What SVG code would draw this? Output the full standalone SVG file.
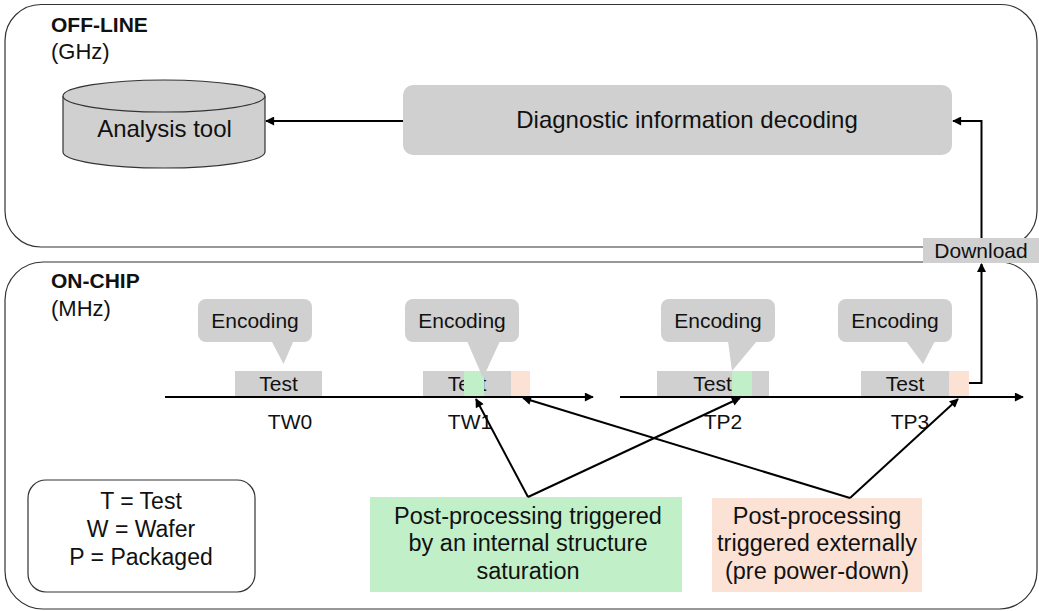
<svg xmlns="http://www.w3.org/2000/svg" width="1039" height="611" viewBox="0 0 1039 611">
<style>
text{font-family:"Liberation Sans",Arial,sans-serif;fill:#111;}
.t{font-size:21px;}
.c{text-anchor:middle;}
.b{font-weight:bold;}
.big{font-size:24px;}
.frame{fill:none;stroke:#333;stroke-width:1.2;}
.gray{fill:#d0d0d0;}
.grn{fill:#c1f0c8;}
.org{fill:#fbe2d5;}
.ln{fill:none;stroke:#000;stroke-width:2;}
.box{font-size:23.5px;}
.lg{font-size:23px;}
.sub{font-size:22px;}
</style>
<defs>
<marker id="ah" viewBox="0 0 10 10" refX="9" refY="5" markerWidth="11" markerHeight="9" markerUnits="userSpaceOnUse" orient="auto">
<path d="M0,0 L10,5 L0,10 Z" fill="#000"/>
</marker>
</defs>
<rect width="1039" height="611" fill="#fff"/>

<g id="offline">
<rect class="frame" x="5" y="4.5" width="1032" height="242.5" rx="36"/>
<text class="t b" x="51" y="32">OFF-LINE</text>
<text class="sub" x="51" y="59">(GHz)</text>
</g>

<g id="onchip">
<rect class="frame" x="5" y="262" width="1032" height="347" rx="38"/>
<text class="t b" x="51" y="288">ON-CHIP</text>
<text class="sub" x="51" y="316">(MHz)</text>
</g>

<g id="analysis">
<path d="M63,96 V152 A101,16 0 0 0 265,152 V96" fill="#d0d0d0" stroke="#333" stroke-width="1.2"/>
<ellipse cx="164" cy="96" rx="101" ry="16" fill="#d0d0d0" stroke="#333" stroke-width="1.2"/>
<text class="big c" x="164.5" y="137">Analysis tool</text>
</g>

<g id="decoding">
<rect class="gray" x="403" y="85" width="549" height="70" rx="10"/>
<text class="big c" x="687" y="128">Diagnostic information decoding</text>
</g>

<g id="download">
<rect class="gray" x="923" y="238" width="116" height="25"/>
<text class="t c" x="981" y="258">Download</text>
</g>

<g id="tw0">
<rect class="gray" x="235" y="371" width="87" height="26"/>
<text class="t c" x="278.5" y="391">Test</text>
<text class="t c" x="290" y="429">TW0</text>
</g>

<g id="tw1">
<rect class="gray" x="423" y="371" width="88" height="26"/>
<text class="t c" x="467" y="391">Test</text>
<rect class="grn" x="464" y="371" width="20" height="26"/>
<rect class="org" x="511" y="371" width="19" height="26"/>
<text class="t c" x="470" y="429">TW1</text>
</g>

<g id="tp2">
<rect class="gray" x="657" y="371" width="112" height="26"/>
<text class="t c" x="712.5" y="391">Test</text>
<rect class="grn" x="732" y="371" width="20" height="26"/>
<text class="t c" x="723" y="429">TP2</text>
</g>

<g id="tp3">
<rect class="gray" x="861" y="371" width="88" height="26"/>
<text class="t c" x="905" y="391">Test</text>
<rect class="org" x="949" y="371" width="20" height="26"/>
<text class="t c" x="910" y="429">TP3</text>
</g>

<g id="enc-tw0">
<rect class="gray" x="198" y="299" width="114" height="43" rx="8"/>
<polygon class="gray" points="271.5,341 293.5,341 283.5,364"/>
<text class="t c" x="255" y="328">Encoding</text>
</g>
<g id="enc-tw1">
<rect class="gray" x="405" y="299" width="114" height="43" rx="8"/>
<polygon class="gray" points="467,341 500,341 483,378"/>
<text class="t c" x="462" y="328">Encoding</text>
</g>
<g id="enc-tp2">
<rect class="gray" x="661" y="299" width="114" height="43" rx="8"/>
<polygon class="gray" points="728,341 757,341 732,371"/>
<text class="t c" x="718" y="328">Encoding</text>
</g>
<g id="enc-tp3">
<rect class="gray" x="838" y="299" width="114" height="43" rx="8"/>
<polygon class="gray" points="906,341 935,341 923,364"/>
<text class="t c" x="895" y="328">Encoding</text>
</g>

<g id="legend">
<rect class="frame" x="28" y="480" width="227" height="112" rx="18"/>
<text class="lg c" x="141" y="509">T = Test</text>
<text class="lg c" x="141" y="537">W = Wafer</text>
<text class="lg c" x="141" y="565">P = Packaged</text>
</g>

<g id="internal">
<rect class="grn" x="370" y="497" width="312" height="95"/>
<text class="box c" x="528" y="524">Post-processing triggered</text>
<text class="box c" x="528" y="551">by an internal structure</text>
<text class="box c" x="528" y="579">saturation</text>
</g>

<g id="external">
<rect class="org" x="712" y="498" width="210" height="94"/>
<text class="box c" x="817" y="524">Post-processing</text>
<text class="box c" x="817" y="551">triggered externally</text>
<text class="box c" x="817" y="579">(pre power-down)</text>
</g>

<g id="connectors">
<line class="ln" x1="403" y1="121" x2="266" y2="121" marker-end="url(#ah)"/>
<line class="ln" x1="165" y1="397" x2="593" y2="397" marker-end="url(#ah)"/>
<line class="ln" x1="620" y1="397" x2="1023" y2="397" marker-end="url(#ah)"/>
<polyline class="ln" points="969,383 981.5,383 981.5,264" marker-end="url(#ah)"/>
<polyline class="ln" points="981.5,238 981.5,121 953,121" marker-end="url(#ah)"/>
<line class="ln" x1="528" y1="497" x2="476" y2="399" marker-end="url(#ah)"/>
<line class="ln" x1="528" y1="497" x2="740" y2="398" marker-end="url(#ah)"/>
<line class="ln" x1="850" y1="498" x2="523" y2="398" marker-end="url(#ah)"/>
<line class="ln" x1="850" y1="498" x2="958" y2="399" marker-end="url(#ah)"/>
</g>
</svg>
